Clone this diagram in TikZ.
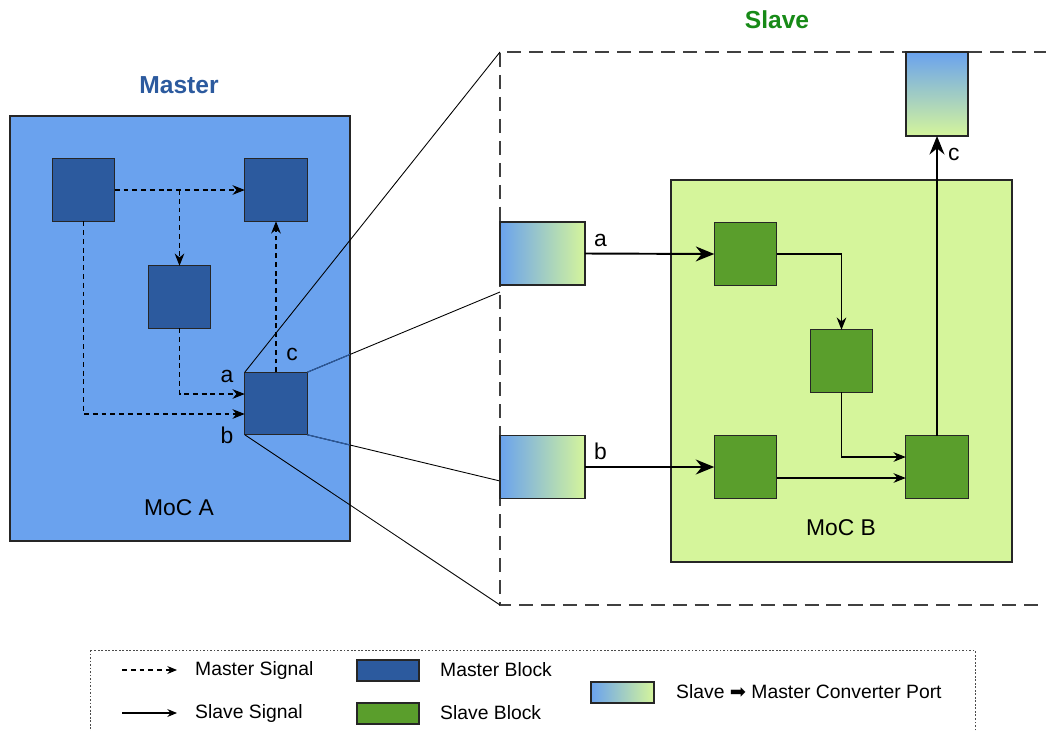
\documentclass[tikz,border=0pt]{standalone}
\usepackage{fontspec}
\setmainfont{Liberation Sans}
\newfontfamily\arrowfont{DejaVu Sans}
\usetikzlibrary{arrows.meta,calc}
\definecolor{mocAfill}{HTML}{6AA2EE}
\definecolor{mblock}{HTML}{2C5A9E}
\definecolor{mocBfill}{HTML}{D5F59B}
\definecolor{sblock}{HTML}{5A9E2C}
\definecolor{slavegreen}{HTML}{178A17}
\begin{document}
\begin{tikzpicture}[x=0.02cm,y=-0.02cm,
  box/.style={draw=black!85,line width=0.7pt,inner sep=0pt,outer sep=0pt},
  mblk/.style={box,fill=mblock,minimum width=1.25cm,minimum height=1.25cm},
  sblk/.style={box,fill=sblock,minimum width=1.25cm,minimum height=1.25cm},
  port/.style={box,left color=mocAfill,right color=mocBfill,minimum width=1.7cm,minimum height=1.26cm},
  msig/.style={draw,line width=0.6pt,dash pattern=on 2.8pt off 2.2pt,-{Stealth[length=7pt,width=5.5pt]}},
  ssig/.style={draw,line width=0.6pt,-{Stealth[length=7pt,width=5.5pt]}},
  sbig/.style={draw,line width=1.1pt,-{Stealth[length=10.5pt,width=8.5pt]}},
  lbl/.style={font=\fontsize{13}{15}\selectfont},
  ttl/.style={font=\fontsize{14}{16}\selectfont\bfseries},
  leg/.style={anchor=west,font=\fontsize{11}{13}\selectfont}]
\useasboundingbox (0,0) rectangle (1046,731);
\node[ttl,text=mblock] (masterttl) at (179,85) {Master};
\node[ttl,text=slavegreen] (slavettl) at (777,20) {Slave};
\node[box,fill=mocAfill,minimum width=6.8cm,minimum height=8.5cm] (mocA) at (180,328.5) {};
\node[lbl] (mocAlbl) at (179,508) {MoC A};
\node[mblk] (B1) at (83.5,190) {};
\node[mblk] (B2) at (276,190) {};
\node[mblk] (B3) at (179.5,297) {};
\node[mblk] (B4) at (276,403.5) {};
\draw[msig] (B1.east) -- (B2.west);
\draw[msig] (B3.north |- B1.east) -- (B3.north);
\draw[msig] (B1.south) |- ([yshift=-0.21cm]B4.west);
\draw[msig] (B3.south) |- ([yshift=0.19cm]B4.west);
\draw[msig] (B4.north) -- (B2.south);
\node[lbl] (la) at (227,376) {a};
\node[lbl] (lb) at (227,435) {b};
\node[lbl] (lc) at (292,354) {c};
\coordinate (sNW) at (500,52);
\coordinate (sSW) at (500,605);
\coordinate (zA) at (500,292);
\coordinate (zB) at (500,481);
\draw[black!75,line width=0.7pt,dash pattern=on 8pt off 4.5pt] (1070,52) -- (sNW) -- (sSW) -- (1070,605);
\draw[line width=0.5pt] (B4.north west) -- (sNW) (B4.north east) -- (zA) (B4.south east) -- (zB) (B4.south west) -- (sSW);
\begin{scope}
\clip (mocA.north west) rectangle (mocA.south east);
\draw[mblock,line width=0.6pt] (B4.north east) -- (zA) (B4.south east) -- (zB);
\end{scope}
\node[box,fill=mocBfill,minimum width=6.82cm,minimum height=7.64cm] (mocB) at (841.5,371) {};
\node[lbl] (mocBlbl) at (841,528) {MoC B};
\node[sblk] (G1) at (745.5,254) {};
\node[sblk] (G2) at (841.5,361) {};
\node[sblk] (G3) at (745.5,467) {};
\node[sblk] (G4) at (937,467) {};
\node[port] (porta) at (542.5,253.5) {};
\node[port] (portb) at (542.5,467) {};
\node[box,top color=mocAfill,bottom color=mocBfill,minimum width=1.24cm,minimum height=1.68cm] (portc) at (937,94) {};
\draw[sbig] (porta.east) -- node[lbl,pos=0.12,above] {a} (G1.west);
\draw[sbig] (portb.east) -- node[lbl,pos=0.12,above] {b} (G3.west);
\draw[sbig] (G4.north) -- node[lbl,pos=0.94,right,xshift=2.5pt] {c} (portc.south);
\draw[ssig] (G1.east) -| (G2.north);
\draw[ssig] (G2.south) |- ([yshift=0.2cm]G4.west);
\draw[ssig] ([yshift=-0.22cm]G3.east) -- ([yshift=-0.22cm]G4.west);
\draw[black!70,line width=0.5pt,dash pattern=on 1pt off 1pt] (90,650) rectangle (975,780);
\coordinate (lm1) at (122,670);
\coordinate (lm2) at (177,670);
\coordinate (ls1) at (122,713);
\coordinate (ls2) at (177,713);
\draw[msig,-{Stealth[length=5.5pt,width=4.5pt]}] (lm1) -- (lm2);
\draw[ssig,-{Stealth[length=5.5pt,width=4.5pt]}] (ls1) -- (ls2);
\node[leg] (lmtxt) at (189,670) {Master Signal};
\node[leg] (lstxt) at (189,713) {Slave Signal};
\node[box,fill=mblock,minimum width=1.24cm,minimum height=0.42cm] (lmb) at (388,670.5) {};
\node[box,fill=sblock,minimum width=1.24cm,minimum height=0.42cm] (lsb) at (388,713.5) {};
\node[leg] (lmbtxt) at (434,670) {Master Block};
\node[leg] (lsbtxt) at (434,713) {Slave Block};
\node[box,left color=mocAfill,right color=mocBfill,minimum width=1.26cm,minimum height=0.42cm] (lport) at (622.5,692.5) {};
\node[leg] (lporttxt) at (670,692) {Slave {\arrowfont ➡} Master Converter Port};
\end{tikzpicture}
\end{document}
